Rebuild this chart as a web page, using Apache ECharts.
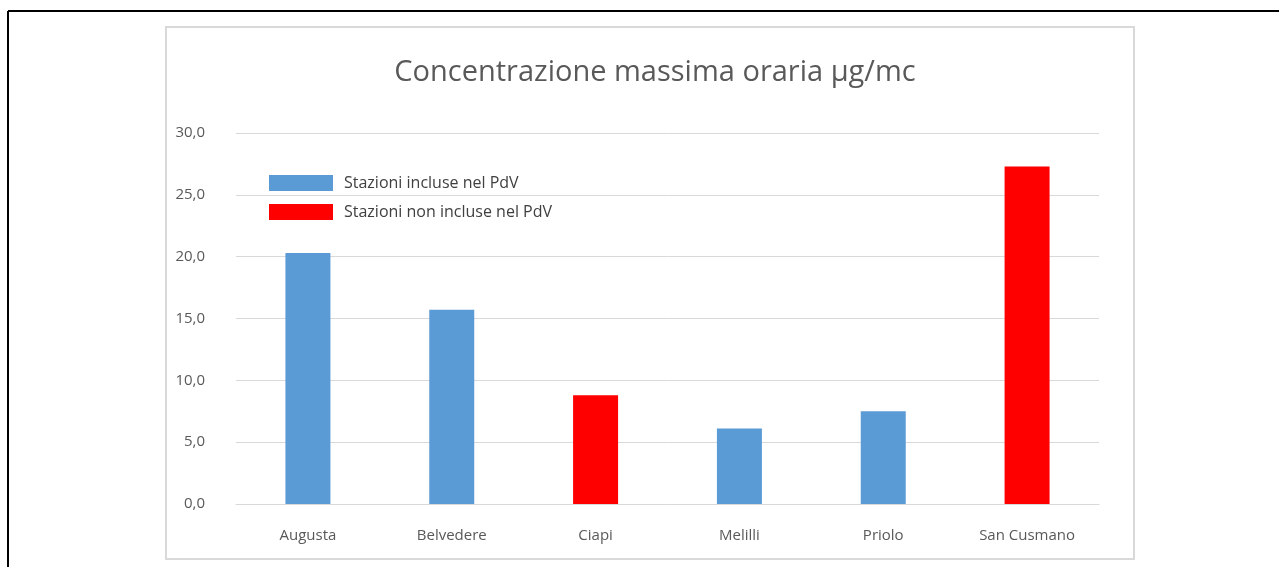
<!DOCTYPE html>
<html>
<head>
<meta charset="utf-8">
<script src="https://cdn.jsdelivr.net/npm/echarts@6/dist/echarts.min.js"></script>
<style>
html,body{margin:0;padding:0;background:#fff;}
#c{width:1279px;height:567px;}
</style>
</head>
<body>
<div id="c"></div>
<script>
const categories = ['Augusta', 'Belvedere', 'Ciapi', 'Melilli', 'Priolo', 'San Cusmano'];
const inclusi = [20.3, 15.7, '-', 6.1, 7.5, '-'];
const nonInclusi = ['-', '-', 8.8, '-', '-', 27.3];
const seriesNames = ['Stazioni incluse nel PdV', 'Stazioni non incluse nel PdV'];
const titleText = 'Concentrazione massima oraria \u03bcg/mc';

const chart = echarts.init(document.getElementById('c'), null, {renderer: 'canvas'});
const font = '"Open Sans", sans-serif';
chart.setOption({
  animation: false,
  backgroundColor: '#fff',
  title: {
    text: titleText,
    left: 650, top: 53, textAlign: 'center',
    textStyle: {fontFamily: font, fontSize: 29, fontWeight: 'normal', color: '#595959'}
  },
  legend: {
    orient: 'vertical',
    left: 269, top: 175, padding: 0,
    itemWidth: 64, itemHeight: 16, itemGap: 13,
    icon: 'rect',
    textStyle: {fontFamily: font, fontSize: 16, color: '#404040', padding: [0,0,0,6]},
    data: seriesNames
  },
  grid: {left: 236, right: 180, top: 133, bottom: 63, containLabel: false},
  xAxis: {
    type: 'category', data: categories,
    axisLine: {show: true, lineStyle: {color: '#d9d9d9', width: 1}},
    axisTick: {show: false},
    axisLabel: {fontFamily: font, fontSize: 15, color: '#595959', margin: 24}
  },
  yAxis: {
    type: 'value', min: 0, max: 30, interval: 5,
    axisLine: {show: false}, axisTick: {show: false},
    axisLabel: {fontFamily: font, fontSize: 15, color: '#595959', margin: 31,
      formatter: v => v.toFixed(1).replace('.', ',')},
    splitLine: {lineStyle: {color: '#d9d9d9', width: 1}}
  },
  series: [
    {name: seriesNames[0], type: 'bar', data: inclusi, barWidth: 45, barGap: '-100%', itemStyle: {color: '#5b9bd5'}},
    {name: seriesNames[1], type: 'bar', data: nonInclusi, barWidth: 45, barGap: '-100%', itemStyle: {color: '#ff0000'}}
  ],
  graphic: [
    {type: 'rect', shape: {x: 166, y: 27, width: 968, height: 532}, style: {fill: 'none', stroke: '#d9d9d9', lineWidth: 2}, silent: true, z: -1},
    {type: 'line', shape: {x1: 8, y1: 11, x2: 1279, y2: 11}, style: {stroke: '#000', lineWidth: 2}, silent: true},
    {type: 'line', shape: {x1: 8, y1: 11, x2: 8, y2: 567}, style: {stroke: '#000', lineWidth: 2}, silent: true}
  ]
});
</script>
</body>
</html>
